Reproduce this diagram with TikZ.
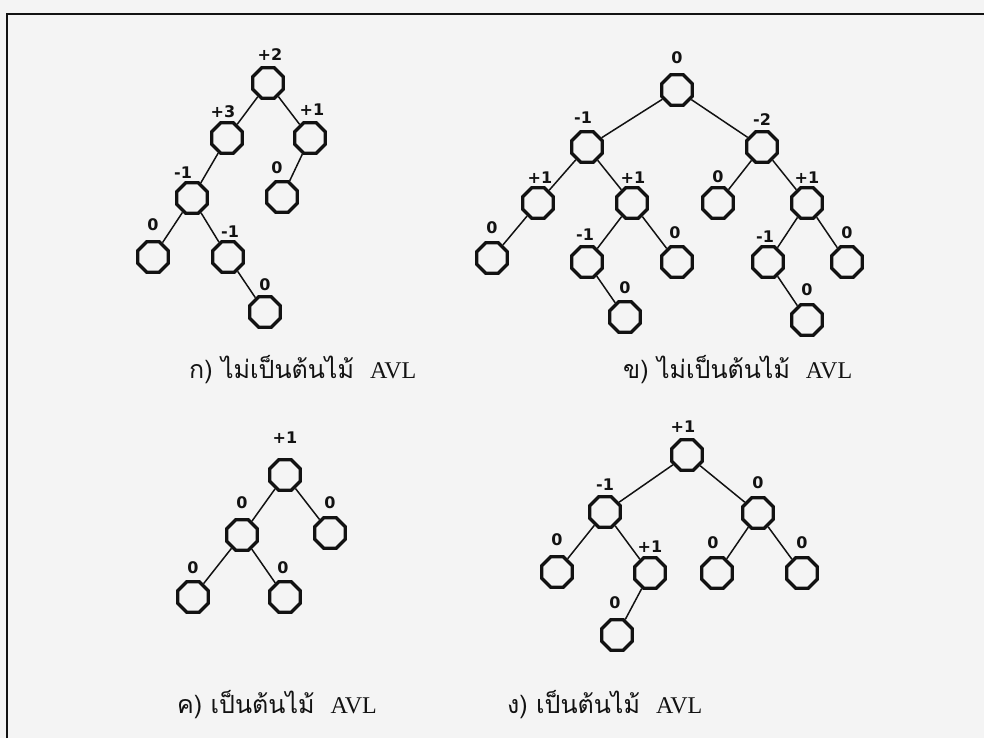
\documentclass[tikz,border=0pt]{standalone}
\usepackage{fontspec}
\setmainfont{Liberation Serif}
\newfontfamily\balfont{DejaVu Sans}
\newfontfamily\thaifont[Script=Thai]{Loma}
\usetikzlibrary{shapes.geometric}
\definecolor{ink}{RGB}{18,18,18}
\definecolor{paper}{RGB}{244,244,244}
\tikzset{
  avl/.style={regular polygon, regular polygon sides=8, minimum size=33pt,
    inner sep=0pt, draw=ink, line width=3.3pt},
  bal/.style={font=\balfont\bfseries\fontsize{16}{16}\selectfont, text=ink, inner sep=0pt},
  edge/.style={draw=ink, line width=1.5pt},
  caption/.style={anchor=base west, inner sep=0pt, text=ink},
  frame/.style={draw=ink, line width=2.8pt}
}
\newcommand{\treecaption}[2]{{\thaifont\fontsize{25}{25}\selectfont #1}\hspace{16pt}{\fontsize{24}{24}\selectfont #2}}
\begin{document}
\begin{tikzpicture}[x=1pt, y=-1pt]
\useasboundingbox (0,0) rectangle (984,738);
\fill[paper] (0,0) rectangle (984,738);
\draw[frame] (7,738) -- (7,14) -- (984,14);

% tree ก
\foreach \n/\x/\y/\t/\lx/\ly in {
  a1/268/83/+2/270/55, a2/227/138/+3/223/112, a3/310/138/+1/312/110,
  a4/192/198/-1/183/173, a5/282/197/0/277/168, a6/153/257/0/153/225,
  a7/228/257/-1/230/232, a8/265/312/0/265/285}
  { \node[avl] (\n) at (\x,\y) {}; \node[bal] (\n b) at (\lx,\ly) {\t}; }
\foreach \p/\c in {a1/a2, a1/a3, a2/a4, a3/a5, a4/a6, a4/a7, a7/a8}
  \draw[edge] (\p) -- (\c);

% tree ข
\foreach \n/\x/\y/\t/\lx/\ly in {
  b1/677/90/0/677/58, b2/587/147/-1/583/118, b3/762/147/-2/762/120,
  b4/538/203/+1/540/178, b5/632/203/+1/633/178, b6/492/258/0/492/228,
  b7/587/262/-1/585/235, b8/677/262/0/675/233, b9/625/317/0/625/288,
  b10/718/203/0/718/177, b11/807/203/+1/807/178, b12/768/262/-1/765/237,
  b13/847/262/0/847/233, b14/807/320/0/807/290}
  { \node[avl] (\n) at (\x,\y) {}; \node[bal] (\n b) at (\lx,\ly) {\t}; }
\foreach \p/\c in {b1/b2, b1/b3, b2/b4, b2/b5, b4/b6, b5/b7, b5/b8, b7/b9,
  b3/b10, b3/b11, b11/b12, b11/b13, b12/b14}
  \draw[edge] (\p) -- (\c);

% tree ค
\foreach \n/\x/\y/\t/\lx/\ly in {
  c1/285/475/+1/285/438, c2/242/535/0/242/503, c3/330/533/0/330/503,
  c4/193/597/0/193/568, c5/285/597/0/283/568}
  { \node[avl] (\n) at (\x,\y) {}; \node[bal] (\n b) at (\lx,\ly) {\t}; }
\foreach \p/\c in {c1/c2, c1/c3, c2/c4, c2/c5}
  \draw[edge] (\p) -- (\c);

% tree ง
\foreach \n/\x/\y/\t/\lx/\ly in {
  d1/687/455/+1/683/427, d2/605/512/-1/605/485, d3/758/513/0/758/483,
  d4/557/572/0/557/540, d5/650/573/+1/650/547, d6/617/635/0/615/603,
  d7/717/573/0/713/543, d8/802/573/0/802/543}
  { \node[avl] (\n) at (\x,\y) {}; \node[bal] (\n b) at (\lx,\ly) {\t}; }
\foreach \p/\c in {d1/d2, d1/d3, d2/d4, d2/d5, d5/d6, d3/d7, d3/d8}
  \draw[edge] (\p) -- (\c);

% captions
\node[caption] (capA) at (189,378) {\treecaption{ก) ไม่เป็นต้นไม้}{AVL}};
\node[caption] (capB) at (623,378) {\treecaption{ข) ไม่เป็นต้นไม้}{AVL}};
\node[caption] (capC) at (177,713) {\treecaption{ค) เป็นต้นไม้}{AVL}};
\node[caption] (capD) at (507,713) {\treecaption{ง) เป็นต้นไม้}{AVL}};
\end{tikzpicture}
\end{document}
